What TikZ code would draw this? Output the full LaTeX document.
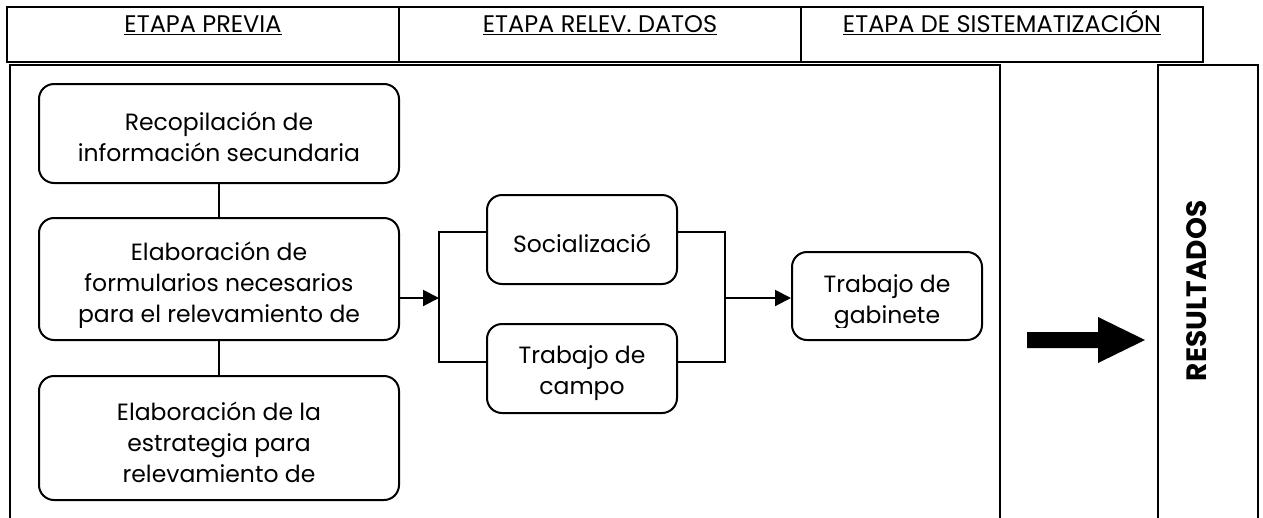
\documentclass[tikz,border=0pt]{standalone}
\usepackage{fontspec}
\setmainfont{Poppins}
\usetikzlibrary{arrows.meta}
\begin{document}
\begin{tikzpicture}[x=1pt,y=-1pt,
  lane/.style={line width=2pt},
  hdr/.style={line width=2.5pt},
  box/.style={draw, line width=2pt, rounded corners=15pt, inner sep=0pt},
  txt/.style={inner sep=0pt, align=center, anchor=north, font=\fontsize{23.5}{31}\selectfont},
  htxt/.style={inner sep=0pt, anchor=base, font=\fontsize{24}{28}\selectfont},
  uline/.style={line width=1.3pt},
  conn/.style={line width=2pt},
  arr/.style={line width=2pt, -{Triangle[length=16pt,width=16pt]}},
  bigarrow/.style={fill=black},
]
\useasboundingbox (0,0) rectangle (1263,517);

% header
\draw[hdr] (7,7) rectangle (1203,62);
\draw[hdr] (399,7) -- (399,62);
\draw[hdr] (801,7) -- (801,62);
\node[htxt] (h1) at (203,32) {ETAPA PREVIA};
\node[htxt] (h2) at (600,32) {ETAPA RELEV. DATOS};
\node[htxt] (h3) at (1002,32) {ETAPA DE SISTEMATIZACIÓN};
\foreach \h in {h1,h2,h3}
  \draw[uline] ([yshift=-2.5pt]\h.base west) -- ([yshift=-2.5pt]\h.base east);

% lanes
\draw[lane] (10,520) -- (10,65) -- (1000,65) -- (1000,520);
\draw[lane] (1158,520) -- (1158,65) -- (1258,65) -- (1258,520);

% boxes
\node[box, minimum width=360pt, minimum height=99pt] (b1) at (219,133.5) {};
\node[box, minimum width=360pt, minimum height=122pt] (b2) at (219,279) {};
\node[box, minimum width=360pt, minimum height=124pt] (b3) at (219,438) {};
\node[box, minimum width=190pt, minimum height=89pt] (soc) at (582,239.5) {};
\node[box, minimum width=190pt, minimum height=89pt] (cam) at (582,368.5) {};
\node[box, minimum width=190pt, minimum height=88pt] (gab) at (887,296) {};

% texts
\node[txt] (t1) at (219,108.3) {\strut Recopilación de\\información secundaria};
\begin{scope}
  \clip (39,218) rectangle (399,327);
  \node[txt] (t2) at (219,238.3) {\strut Elaboración de\\formularios necesarios\\para el relevamiento de};
\end{scope}
\node[txt] (t3) at (219,398.3) {\strut Elaboración de la\\estrategia para\\relevamiento de};
\node[txt] (t4) at (582,230.3) {\strut Socializació};
\node[txt] (t5) at (582,341.3) {\strut Trabajo de\\campo};
\begin{scope}
  \clip (792,252) rectangle (982,327);
  \node[txt] (t6) at (887,270.3) {\strut Trabajo de\\gabinete};
\end{scope}

% connectors
\draw[conn] (b1.south) -- (b2.north);
\draw[conn] (b2.south) -- (b3.north);
\coordinate (lt) at (439,232);
\coordinate (lb) at (439,362);
\coordinate (lm) at (439,298);
\coordinate (rt) at (725,232);
\coordinate (rb) at (725,362);
\coordinate (rm) at (725,298);
\draw[conn] (soc.west |- lt) -- (lt) -- (lb) -- (cam.west |- lb);
\draw[conn] (soc.east |- rt) -- (rt) -- (rb) -- (cam.east |- rb);
\draw[arr] (b2.east |- lm) -- (lm);
\draw[arr] (rm) -- (gab.west |- rm);

% big arrow
\fill[bigarrow] (1027,332) -- (1098,332) -- (1098,317) -- (1145,340) -- (1098,363) -- (1098,348) -- (1027,348) -- cycle;

% resultados
\node[inner sep=0pt, rotate=90, font=\fontsize{28}{32}\selectfont\bfseries] (res) at (1197,291) {RESULTADOS};
\end{tikzpicture}
\end{document}
